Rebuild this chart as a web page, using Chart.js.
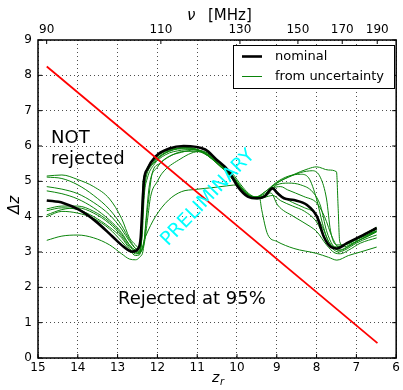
<!DOCTYPE html>
<html><head><meta charset="utf-8">
<script src="https://cdn.jsdelivr.net/npm/chart.js@4/dist/chart.umd.min.js"></script>
<style>html,body{margin:0;padding:0;background:#fff}#w{width:403px;height:390px}</style>
</head><body><div id="w"><canvas id="c" width="403" height="390"></canvas></div>
<script>
// ---- tick labels ----
const zTicks = [15,14,13,12,11,10,9,8,7,6];
const dzTicks = [0,1,2,3,4,5,6,7,8,9];
const freqTicks = [90,110,130,150,170,190];

// ---- rejection threshold (red) ----
const redZ  = [14.78, 6.47];
const redDz = [8.25, 0.42];

// ---- nominal (black) ----
const nomZ  = [14.78,14.37,13.96,13.54,13.13,12.85,12.63,12.48,12.42,12.38,12.34,12.25,12.05,11.7,11.34,10.8,10.52,10.23,9.98,9.73,9.48,9.31,9.11,8.98,8.82,8.57,8.24,7.99,7.82,7.65,7.49,7.24,6.83,6.49];
const nomDz = [4.46,4.39,4.19,3.86,3.44,3.15,3.01,3.1,3.4,4.2,5.0,5.35,5.7,5.93,6.0,5.9,5.62,5.32,4.85,4.57,4.52,4.57,4.8,4.66,4.52,4.47,4.33,4.0,3.44,3.15,3.1,3.25,3.48,3.68];

// ---- from uncertainty (green) ----
const g1Z  = [14.78,14.4,14.0,13.6,13.2,12.9,12.7,12.55,12.45,12.38,12.33,12.25,12.1,11.8,11.4,11.1,10.8,10.5,10.2,10.0,9.8,9.6,9.3,9.0,8.6,8.2,8.0,7.7,7.5,7.46,7.42,7.3,7.1,6.8,6.49];
const g1Dz = [5.15,5.18,5.05,4.85,4.5,3.95,3.4,3.2,3.1,3.5,4.6,5.1,5.45,5.75,5.88,5.9,5.8,5.55,5.25,4.95,4.7,4.55,4.65,4.95,5.18,5.36,5.41,5.32,5.27,4.3,3.3,3.15,3.25,3.4,3.58];
const g2Z  = [14.78,14.4,14.0,13.6,13.2,12.9,12.7,12.55,12.45,12.4,12.35,12.25,12.05,11.7,11.3,11.0,10.7,10.4,10.1,9.9,9.7,9.5,9.3,9.0,8.7,8.4,8.1,7.9,7.75,7.65,7.5,7.3,7.0,6.7,6.49];
const g2Dz = [5.12,5.08,4.9,4.6,4.2,3.75,3.35,3.1,3.0,3.6,4.9,5.3,5.6,5.85,5.95,5.9,5.75,5.45,5.15,4.85,4.62,4.55,4.7,4.95,5.12,5.25,5.3,5.1,4.5,3.6,3.2,3.2,3.35,3.5,3.65];
const g3Z  = [14.78,14.4,14.0,13.6,13.2,12.9,12.7,12.55,12.42,12.32,12.25,12.17,12.0,11.88,11.47,10.97,10.7,10.4,10.1,9.9,9.7,9.5,9.3,9.1,8.9,8.73,8.32,7.99,7.8,7.6,7.45,7.2,6.9,6.49];
const g3Dz = [4.85,4.78,4.65,4.4,4.05,3.65,3.3,3.1,3.05,3.3,3.9,4.57,5.0,5.23,5.6,5.84,5.7,5.4,5.1,4.82,4.6,4.52,4.55,4.8,4.85,4.76,4.57,4.38,4.0,3.4,3.15,3.25,3.45,3.7];
const g4Z  = [14.78,14.4,14.0,13.6,13.2,12.9,12.7,12.55,12.45,12.4,12.36,12.3,12.15,11.9,11.5,11.2,10.9,10.6,10.3,10.0,9.75,9.55,9.3,9.0,8.7,8.4,8.2,8.0,7.85,7.7,7.5,7.3,7.0,6.7,6.49];
const g4Dz = [4.73,4.65,4.5,4.25,3.9,3.55,3.2,3.05,3.0,3.3,4.3,5.0,5.45,5.75,5.93,5.95,5.85,5.6,5.3,4.9,4.6,4.55,4.7,4.98,5.15,5.2,5.1,4.5,3.8,3.3,3.15,3.2,3.35,3.5,3.6];
const g5Z  = [14.78,14.4,14.0,13.6,13.2,12.9,12.7,12.55,12.45,12.3,12.05,11.72,11.39,11.05,10.55,10.2,9.98,9.75,9.5,9.3,9.1,8.9,8.6,8.3,8.0,7.8,7.6,7.45,7.3,7.0,6.7,6.49];
const g5Dz = [4.22,4.3,4.3,4.15,3.85,3.5,3.2,3.0,2.95,3.43,4.0,4.47,4.71,4.77,4.83,4.88,4.9,4.65,4.5,4.55,4.6,4.45,4.3,4.15,3.85,3.4,3.1,3.0,3.05,3.25,3.4,3.48];
const g6Z  = [14.78,14.4,14.0,13.6,13.2,12.9,12.7,12.55,12.45,12.41,12.37,12.3,12.1,11.8,11.4,11.0,10.7,10.4,10.1,9.9,9.7,9.5,9.3,9.1,8.9,8.6,8.3,8.05,7.85,7.7,7.55,7.4,7.2,6.9,6.49];
const g6Dz = [4.17,4.25,4.2,4.0,3.7,3.4,3.1,2.95,2.95,3.4,4.8,5.25,5.6,5.85,5.95,5.9,5.7,5.4,5.1,4.8,4.58,4.52,4.6,4.8,4.6,4.4,4.25,4.1,3.7,3.3,3.1,3.05,3.15,3.35,3.6];
const g7Z  = [14.78,14.4,14.0,13.6,13.2,12.9,12.7,12.55,12.45,12.35,12.25,12.13,11.95,11.72,11.4,11.05,10.7,10.4,10.1,9.9,9.7,9.5,9.3,9.0,8.7,8.4,8.1,7.9,7.75,7.6,7.45,7.3,7.0,6.7,6.49];
const g7Dz = [4.05,4.2,4.25,4.1,3.8,3.45,3.15,3.0,2.98,3.2,4.2,5.23,5.5,5.7,5.82,5.89,5.78,5.5,5.2,4.9,4.65,4.55,4.6,4.9,4.95,4.9,4.7,4.3,3.6,3.2,3.05,3.1,3.3,3.45,3.57];
const g8Z  = [14.78,14.4,14.0,13.6,13.2,12.9,12.7,12.55,12.45,12.4,12.36,12.3,12.1,11.8,11.4,11.0,10.7,10.4,10.1,9.9,9.7,9.5,9.44,9.38,9.23,9.0,8.57,8.0,7.7,7.49,7.2,6.9,6.49];
const g8Dz = [4.0,4.15,4.1,3.95,3.65,3.3,3.05,2.9,2.92,3.3,4.5,5.15,5.5,5.8,5.92,5.88,5.72,5.42,5.12,4.82,4.6,4.55,4.57,4.2,3.5,3.3,3.1,2.96,2.85,2.77,2.9,3.0,3.14];
const g9Z  = [14.78,14.4,14.0,13.6,13.2,12.9,12.7,12.55,12.45,12.35,12.28,12.2,12.0,11.7,11.3,11.0,10.7,10.4,10.1,9.9,9.7,9.5,9.3,9.15,8.98,8.57,8.16,7.99,7.75,7.55,7.4,7.2,6.9,6.49];
const g9Dz = [3.33,3.45,3.48,3.4,3.2,2.95,2.8,2.78,2.85,3.1,4.0,4.9,5.4,5.7,5.85,5.85,5.7,5.42,5.12,4.82,4.6,4.55,4.6,4.67,4.33,4.0,3.72,3.57,3.2,2.98,2.95,3.05,3.25,3.4];

const greenCurves = [[g1Z,g1Dz],[g2Z,g2Dz],[g3Z,g3Dz],[g4Z,g4Dz],[g5Z,g5Dz],[g6Z,g6Dz],[g7Z,g7Dz],[g8Z,g8Dz],[g9Z,g9Dz]];

const FONT = '"DejaVu Sans", sans-serif';
const pts = (zs, ds) => zs.map((z, i) => ({x: z, y: ds[i]}));
const zOfFreq = f => 1420.405751 / f - 1;

const datasets = [];
datasets.push({label:'threshold', data: pts(redZ, redDz), borderColor:'#ff0000', borderWidth:1.8, order:0});
datasets.push({label:'nominal', data: pts(nomZ, nomDz), borderColor:'#000000', borderWidth:2.6, order:1, cubicInterpolationMode:'monotone'});
greenCurves.forEach((c, i) => datasets.push({label: i === 0 ? 'from uncertainty' : '', data: pts(c[0], c[1]), borderColor:'#0a840a', borderWidth:1, order:2, cubicInterpolationMode:'monotone'}));
datasets.forEach(d => { d.pointRadius = 0; d.fill = false; });

const gridOpts = {color:'#000', lineWidth:0.7, drawTicks:false};
const annot = {
  id: 'annot',
  afterDraw(chart) {
    const ctx = chart.ctx, a = chart.chartArea;
    ctx.save();
    // frame
    ctx.strokeStyle = '#000'; ctx.lineWidth = 1.5;
    ctx.strokeRect(a.left, a.top, a.right - a.left, a.bottom - a.top);
    const xs = chart.scales.x;
    ctx.lineWidth = 1;
    // top frequency axis: inward ticks + labels
    ctx.fillStyle = '#000';
    ctx.font = '12px ' + FONT;
    ctx.textAlign = 'center'; ctx.textBaseline = 'alphabetic';
    freqTicks.forEach(f => {
      const px = xs.getPixelForValue(zOfFreq(f));
      ctx.beginPath(); ctx.moveTo(px, a.top); ctx.lineTo(px, a.top + 4); ctx.stroke();
      ctx.fillText(String(f), px, a.top - 7);
    });
    zTicks.forEach(z => {
      const px = xs.getPixelForValue(z);
      ctx.beginPath(); ctx.moveTo(px, a.bottom); ctx.lineTo(px, a.bottom - 4); ctx.stroke();
    });
    const ys = chart.scales.y;
    dzTicks.forEach(v => {
      const py = ys.getPixelForValue(v);
      ctx.beginPath(); ctx.moveTo(a.left, py); ctx.lineTo(a.left + 4, py); ctx.stroke();
      ctx.beginPath(); ctx.moveTo(a.right, py); ctx.lineTo(a.right - 4, py); ctx.stroke();
    });

    // axis titles
    ctx.textAlign = 'left';
    ctx.font = 'italic 15px ' + FONT;
    ctx.fillText('\u03bd', 187, 20);
    ctx.font = '15px ' + FONT;
    ctx.fillText('[MHz]', 208, 20);
    ctx.font = 'italic 14px ' + FONT;
    ctx.fillText('z', 212, 382);
    ctx.font = 'italic 10px ' + FONT;
    ctx.fillText('r', 220, 385);
    ctx.save();
    ctx.translate(19, 205); ctx.rotate(-Math.PI / 2);
    ctx.textAlign = 'center';
    ctx.font = 'italic 15px ' + FONT;
    ctx.fillText('\u0394z', 0, 0);
    ctx.restore();

    // annotations
    ctx.font = '18px ' + FONT;
    ctx.fillText('NOT', 51, 143);
    ctx.fillText('rejected', 51, 164);
    ctx.fillText('Rejected at 95%', 118, 304);
    ctx.save();
    ctx.translate(208, 198); ctx.rotate(-46 * Math.PI / 180);
    ctx.textAlign = 'center'; ctx.textBaseline = 'middle';
    ctx.fillStyle = '#00ffff';
    ctx.font = '19px ' + FONT;
    ctx.fillText('PRELIMINARY', 0, 0);
    ctx.restore();

    // legend
    ctx.fillStyle = '#fff';
    ctx.fillRect(233.5, 45.5, 161, 43);
    ctx.strokeStyle = '#000'; ctx.lineWidth = 1;
    ctx.strokeRect(233.5, 45.5, 161, 43);
    const items = [[datasets[1], 56.5], [datasets[2], 76.5]];
    items.forEach(([d, yy]) => {
      ctx.strokeStyle = d.borderColor; ctx.lineWidth = d.borderWidth;
      ctx.beginPath(); ctx.moveTo(242, yy); ctx.lineTo(262, yy); ctx.stroke();
      ctx.fillStyle = '#000'; ctx.font = '13px ' + FONT;
      ctx.textBaseline = 'middle'; ctx.textAlign = 'left';
      ctx.fillText(d.label, 275, yy);
    });
    ctx.restore();
  }
};

new Chart(document.getElementById('c'), {
  type: 'line',
  data: { datasets },
  options: {
    responsive: false, animation: false,
    layout: { padding: { left: 0, right: 3, top: 40, bottom: 0 } },
    plugins: { legend: { display: false }, tooltip: { enabled: false } },
    scales: {
      x: {
        type: 'linear', position: 'bottom', min: 6, max: 15, reverse: true,
        afterBuildTicks: s => { s.ticks = zTicks.map(v => ({value: v})); },
        afterFit: s => { s.height = 32; },
        ticks: { autoSkip: false, maxRotation: 0, padding: 3, color: '#000', font: { family: FONT, size: 12 } },
        grid: gridOpts,
        border: { display: false, dash: [1, 3] }
      },
      y: {
        type: 'linear', min: 0, max: 9,
        afterBuildTicks: s => { s.ticks = dzTicks.map(v => ({value: v})); },
        afterFit: s => { s.width = 38; },
        ticks: { autoSkip: false, padding: 6, color: '#000', font: { family: FONT, size: 12 } },
        grid: gridOpts,
        border: { display: false, dash: [1, 3] }
      }
    }
  },
  plugins: [annot]
});
</script>
</body></html>
